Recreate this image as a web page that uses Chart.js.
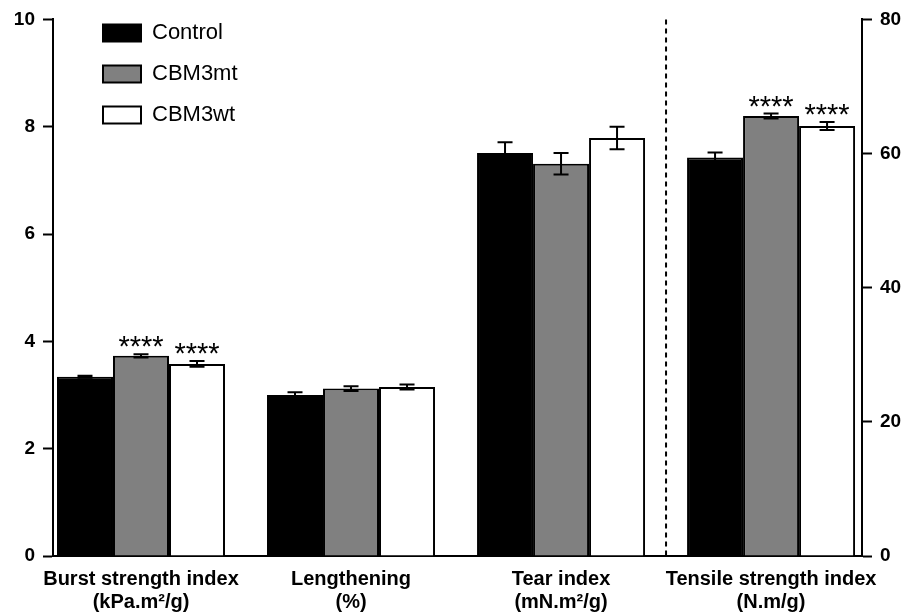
<!DOCTYPE html>
<html>
<head>
<meta charset="utf-8">
<title>Paper properties</title>
<script src="https://cdn.jsdelivr.net/npm/chart.js@4.4.1/dist/chart.umd.min.js"></script>
<style>
  html, body { margin: 0; padding: 0; background: #fff; }
  #wrap { width: 916px; height: 615px; }
</style>
</head>
<body>
<div id="wrap"><canvas id="chart" width="916" height="615"></canvas></div>
<script>
// categories (two-line tick labels under each group)
const groupLabels = [
  ['Burst strength index', '(kPa.m²/g)'],
  ['Lengthening', '(%)'],
  ['Tear index', '(mN.m²/g)'],
  ['Tensile strength index', '(N.m/g)']
];
const seriesNames = ['Control', 'CBM3mt', 'CBM3wt'];

// means per group; the last group is read on the right axis
const controlMean = [3.34, 3.00, 7.51, 59.4];
const mtMean      = [3.73, 3.12, 7.31, 65.6];
const wtMean      = [3.58, 3.15, 7.79, 64.1];

// error bar half-lengths
const controlErr = [0.02, 0.05, 0.20, 0.75];
const mtErr      = [0.03, 0.045, 0.20, 0.37];
const wtErr      = [0.055, 0.045, 0.21, 0.60];

// significance marks
const controlStars = ['', '', '', ''];
const mtStars      = ['****', '', '', '****'];
const wtStars      = ['****', '', '', '****'];

const rightAxisGroup = 3;
const leftTicks = [0, 2, 4, 6, 8, 10];
const rightTicks = [0, 20, 40, 60, 80];

Chart.defaults.font.family = "'Liberation Sans', Arial, sans-serif";
Chart.defaults.color = '#000';

const means = [controlMean, mtMean, wtMean];
const errs = [controlErr, mtErr, wtErr];
const stars = [controlStars, mtStars, wtStars];
const fills = ['#000000', '#808080', '#ffffff'];
const slots = ['c', 'm', 'w'];

const datasets = [];
seriesNames.forEach((name, s) => {
  datasets.push({
    label: name,
    data: means[s].map((v, i) => ({ x: i, y: v })).filter(p => p.x !== rightAxisGroup),
    yAxisID: 'y',
    stack: slots[s],
    backgroundColor: fills[s],
    borderColor: '#000',
    borderWidth: 2,
    errors: errs[s],
    stars: stars[s]
  });
});
// right-axis group (same slots so bars line up with the others)
seriesNames.forEach((name, s) => {
  datasets.push({
    label: name,
    data: [{ x: rightAxisGroup, y: means[s][rightAxisGroup] }],
    yAxisID: 'y2',
    stack: slots[s],
    backgroundColor: fills[s],
    borderColor: '#000',
    borderWidth: 2,
    errors: errs[s],
    stars: stars[s]
  });
});

// error bars + asterisks
const errorBars = {
  id: 'errorBars',
  afterDatasetsDraw(chart) {
    const ctx = chart.ctx;
    ctx.save();
    ctx.strokeStyle = '#000';
    ctx.lineWidth = 2;
    ctx.fillStyle = '#000';
    ctx.font = "29px 'Liberation Sans', Arial, sans-serif";
    ctx.textAlign = 'center';
    ctx.textBaseline = 'alphabetic';
    chart.data.datasets.forEach((ds, i) => {
      const meta = chart.getDatasetMeta(i);
      const sc = chart.scales[ds.yAxisID];
      meta.data.forEach((bar, j) => {
        const p = ds.data[j];
        const e = ds.errors[p.x];
        const yTop = sc.getPixelForValue(p.y + e);
        const yBot = sc.getPixelForValue(p.y - e);
        const x = bar.x, cap = 7.5;
        ctx.beginPath();
        ctx.moveTo(x, yTop); ctx.lineTo(x, yBot);
        ctx.moveTo(x - cap, yTop); ctx.lineTo(x + cap, yTop);
        ctx.moveTo(x - cap, yBot); ctx.lineTo(x + cap, yBot);
        ctx.stroke();
        const st = ds.stars[p.x];
        if (st) ctx.fillText(st, x, yTop + 2);
      });
    });
    ctx.restore();
  }
};

// dashed separator before the right-axis group
const separator = {
  id: 'separator',
  afterDatasetsDraw(chart) {
    const { ctx, chartArea } = chart;
    const x = chart.scales.x.getPixelForValue(rightAxisGroup - 0.5);
    ctx.save();
    ctx.strokeStyle = '#000';
    ctx.lineWidth = 2;
    ctx.setLineDash([5, 4]);
    ctx.beginPath();
    ctx.moveTo(x, chartArea.top);
    ctx.lineTo(x, chartArea.bottom);
    ctx.stroke();
    ctx.restore();
  }
};

// move the in-plot legend to its spot
const legendNudge = {
  id: 'legendNudge',
  afterLayout(chart) {
    chart.legend.left += 31;
    chart.legend.top += 3;
  }
};

const tickFont = { size: 19, weight: 'bold' };

new Chart(document.getElementById('chart'), {
  type: 'bar',
  data: { datasets },
  plugins: [errorBars, separator, legendNudge],
  options: {
    responsive: false,
    animation: false,
    layout: { padding: { top: 17, left: 0, right: 0, bottom: 0 } },
    categoryPercentage: 0.8,
    barPercentage: 1.0,
    plugins: {
      tooltip: { enabled: false },
      legend: {
        position: 'chartArea',
        align: 'start',
        labels: {
          filter: item => item.datasetIndex < seriesNames.length,
          boxWidth: 38,
          boxHeight: 17,
          padding: 19,
          font: { size: 22 },
          color: '#000'
        }
      }
    },
    scales: {
      x: {
        type: 'linear',
        offset: false,
        min: -0.419,
        max: 3.433,
        afterBuildTicks: sc => { sc.ticks = groupLabels.map((_, i) => ({ value: i })); },
        ticks: {
          callback: v => groupLabels[v],
          font: { size: 20, weight: 'bold', lineHeight: 1.15 },
          padding: 12,
          maxRotation: 0,
          autoSkip: false
        },
        grid: { display: false, drawTicks: false },
        border: { color: '#000', width: 2 },
        afterFit: sc => { sc.height = 59; }
      },
      y: {
        position: 'left',
        min: 0,
        max: 10,
        afterBuildTicks: sc => { sc.ticks = leftTicks.map(v => ({ value: v })); },
        ticks: { font: tickFont, padding: 8 },
        grid: { drawOnChartArea: false, tickLength: 10, tickWidth: 2, tickColor: '#000' },
        border: { color: '#000', width: 2 },
        afterFit: sc => { sc.width = 53; }
      },
      y2: {
        position: 'right',
        min: 0,
        max: 80,
        afterBuildTicks: sc => { sc.ticks = rightTicks.map(v => ({ value: v })); },
        ticks: { font: tickFont, padding: 8 },
        grid: { drawOnChartArea: false, tickLength: 10, tickWidth: 2, tickColor: '#000' },
        border: { color: '#000', width: 2 },
        afterFit: sc => { sc.width = 54; }
      }
    }
  }
});
</script>
</body>
</html>
